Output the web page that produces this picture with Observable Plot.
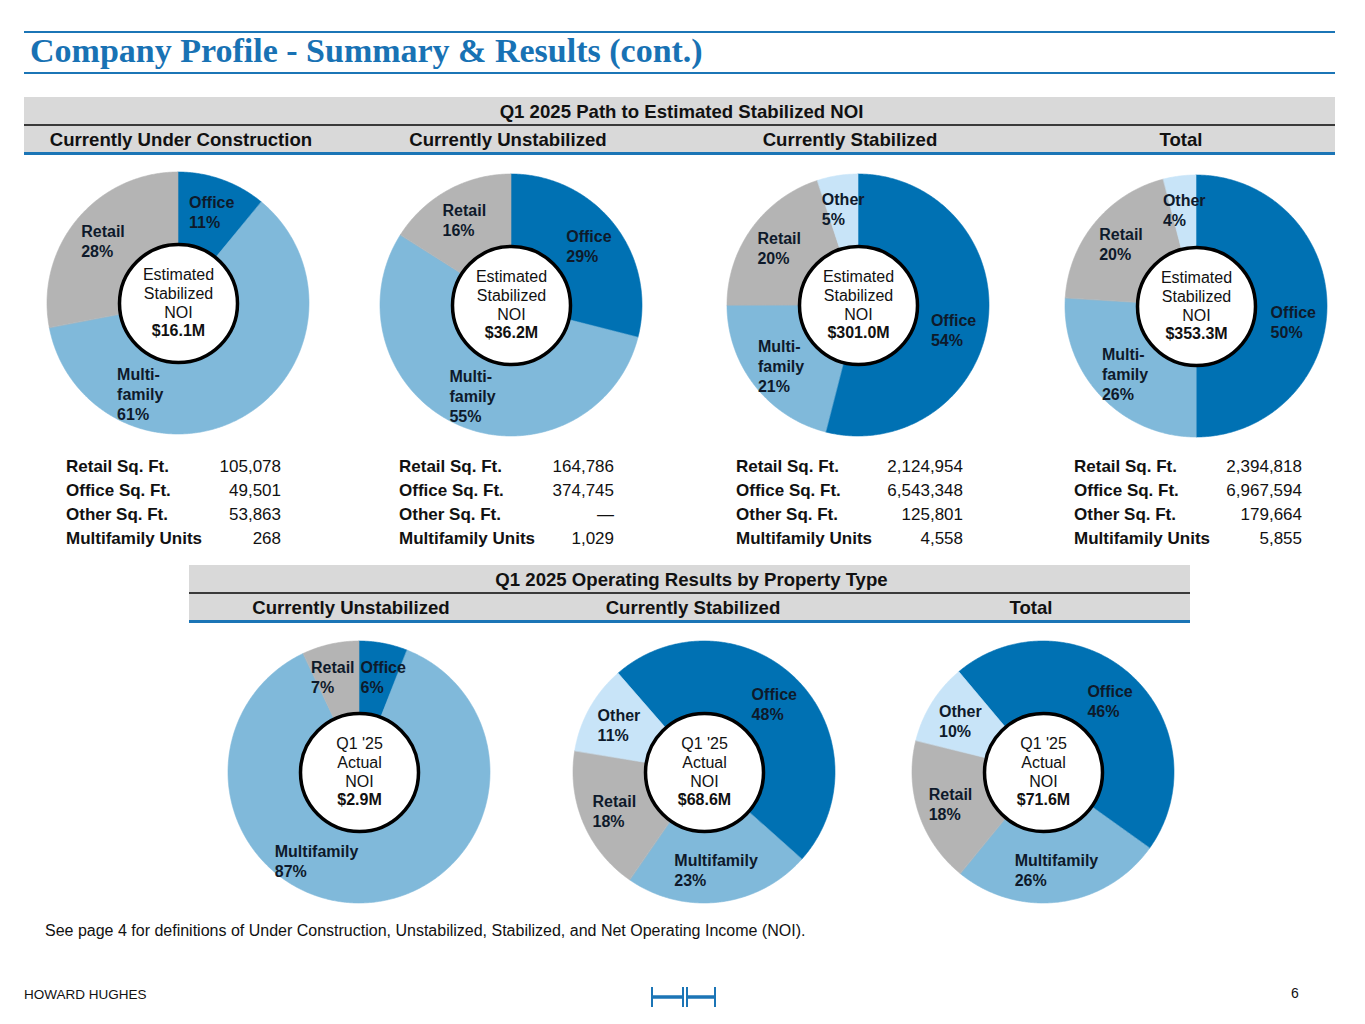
<!DOCTYPE html>
<html><head><meta charset="utf-8">
<script src="https://cdn.jsdelivr.net/npm/d3@7"></script>
<script src="https://cdn.jsdelivr.net/npm/@observablehq/plot@0.6"></script>
<style>
body{margin:0;background:#fff;font-family:"Liberation Sans",Arial,sans-serif;color:#111;}
#page{position:relative;width:1365px;height:1024px;overflow:hidden;background:#fff;}
.abs{position:absolute;}
.hline{position:absolute;height:2px;background:#1b75b6;}
.gray{position:absolute;background:#d9d9d9;}
.hdr{position:absolute;font-weight:bold;font-size:18.6px;white-space:nowrap;transform:translate(-50%,-50%);color:#111;}
.tbl{position:absolute;font-size:17px;}
.tbl .row{position:absolute;left:0;right:0;height:24px;line-height:24px;}
.tbl .lab{position:absolute;left:0;font-weight:bold;}
.tbl .val{position:absolute;right:0;}
.chart{position:absolute;}
</style></head>
<body><div id="page"></div>
<script>
// ---------------- data ----------------
const categories = ["Office", "Multifamily", "Retail", "Other"];
const categoryColors = ["#0071b3", "#80b9da", "#b4b4b4", "#c8e4f8"];

const topTitle = "Q1 2025 Path to Estimated Stabilized NOI";
const topGroups = ["Currently Under Construction", "Currently Unstabilized", "Currently Stabilized", "Total"];
const topNOI = ["$16.1M", "$36.2M", "$301.0M", "$353.3M"];
const topOffice = [11, 29, 54, 50];
const topMultifamily = [61, 55, 21, 26];
const topRetail = [28, 16, 20, 20];
const topOther = [0, 0, 5, 4];

const tableRows = ["Retail Sq. Ft.", "Office Sq. Ft.", "Other Sq. Ft.", "Multifamily Units"];
const retailSqFt = [105078, 164786, 2124954, 2394818];
const officeSqFt = [49501, 374745, 6543348, 6967594];
const otherSqFt = [53863, null, 125801, 179664];
const multifamilyUnits = [268, 1029, 4558, 5855];

const bottomTitle = "Q1 2025 Operating Results by Property Type";
const bottomGroups = ["Currently Unstabilized", "Currently Stabilized", "Total"];
const bottomNOI = ["$2.9M", "$68.6M", "$71.6M"];
const bottomOffice = [6, 48, 46];
const bottomMultifamily = [87, 23, 26];
const bottomRetail = [7, 18, 18];
const bottomOther = [0, 11, 10];

const topCenterText = "Estimated\nStabilized\nNOI";
const bottomCenterText = "Q1 '25\nActual\nNOI";
const topLabelNames = ["Office", "Multi-\nfamily", "Retail", "Other"];
const bottomLabelNames = ["Office", "Multifamily", "Retail", "Other"];

const footnote = "See page 4 for definitions of Under Construction, Unstabilized, Stabilized, and Net Operating Income (NOI).";
const pageTitle = "Company Profile - Summary & Results (cont.)";

// ---------------- layout ----------------
const page = document.getElementById("page");
const FONT = "'Liberation Sans', Arial, sans-serif";
const topCenters = [[178, 303], [511, 305], [858, 305], [1196, 306]];
const topStart = [0, 0, 0, 0];
// label placement angles (degrees, clockwise from 12 o'clock) where the original moved a label off its slice middle
const topLabelAngles = [{Multifamily: 203}, {}, {Office: 104}, {Office: 99}];
const bottomCenters = [[359, 772], [704, 772], [1043, 772]];
const bottomStart = [0, -41, -40];
const bottomLabelAngles = [{Multifamily: 206}, {}, {}];
const topHeaderX = [181, 508, 850, 1181];
const bottomHeaderX = [351, 693, 1031];
const tableLeft = [66, 399, 736, 1074];
const tableRight = [281, 614, 963, 1302];

function el(tag, cls, style, text) {
  const e = document.createElement(tag);
  if (cls) e.className = cls;
  if (style) Object.assign(e.style, style);
  if (text != null) e.textContent = text;
  page.appendChild(e);
  return e;
}

// title
el("div", "hline", {left: "24px", top: "31px", width: "1311px"});
el("div", "abs", {left: "30px", top: "30px", fontFamily: "'Liberation Serif','Times New Roman',serif", fontWeight: "bold", fontSize: "34px", lineHeight: "42px", color: "#1872b4", whiteSpace: "nowrap"}, pageTitle);
el("div", "hline", {left: "24px", top: "72px", width: "1311px"});

function headerBlock(left, top, width, title, groups, xs) {
  el("div", "gray", {left: left + "px", top: top + "px", width: width + "px", height: "56px"});
  el("div", "abs", {left: left + "px", top: (top + 27) + "px", width: width + "px", height: "1.5px", background: "#3a3a3a"});
  el("div", "abs", {left: left + "px", top: (top + 55) + "px", width: width + "px", height: "3px", background: "#1b75b6"});
  el("div", "hdr", {left: (left + width / 2 + 2) + "px", top: (top + 14.5) + "px"}, title);
  groups.forEach((g, i) => el("div", "hdr", {left: xs[i] + "px", top: (top + 43) + "px"}, g));
}
headerBlock(24, 97, 1311, topTitle, topGroups, topHeaderX);
headerBlock(189, 565, 1001, bottomTitle, bottomGroups, bottomHeaderX);

// tables
const fmt = d3.format(",");
const tableValues = [retailSqFt, officeSqFt, otherSqFt, multifamilyUnits];
topGroups.forEach((g, i) => {
  const t = el("div", "tbl", {left: tableLeft[i] + "px", top: "455px", width: (tableRight[i] - tableLeft[i]) + "px", height: "100px"});
  tableRows.forEach((r, k) => {
    const row = document.createElement("div"); row.className = "row"; row.style.top = (k * 24) + "px";
    const a = document.createElement("span"); a.className = "lab"; a.textContent = r;
    const v = tableValues[k][i];
    const b = document.createElement("span"); b.className = "val"; b.textContent = v == null ? "\u2014" : fmt(v);
    row.appendChild(a); row.appendChild(b); t.appendChild(row);
  });
});

// donuts
const ctx = document.createElement("canvas").getContext("2d");
function measure(txt, font) { ctx.font = font; return d3.max(txt.split("\n"), l => ctx.measureText(l).width); }

function donut(values, startDeg, names, centerText, noi, angleOverrides) {
  const W = 300, H = 300, R = 131, LR = 98, r = 59, LH = 20;
  const total = d3.sum(values);
  let a = startDeg * Math.PI / 180;
  const slices = [];
  categories.forEach((c, i) => {
    const v = values[i];
    if (!v) return;
    const a0 = a, a1 = a + v / total * 2 * Math.PI;
    a = a1;
    slices.push({cat: c, name: names[i], v, a0, a1});
  });
  const pts = [];
  for (const s of slices) {
    const n = Math.max(2, Math.ceil((s.a1 - s.a0) / (Math.PI / 360)));
    for (let k = 0; k <= n; k++) {
      const t = s.a0 + (s.a1 - s.a0) * k / n;
      pts.push({cat: s.cat, xo: R * Math.sin(t), yo: R * Math.cos(t), xi: 0, yi: 0});
    }
  }
  const labFont = `bold 16px ${FONT}`;
  const labels = slices.map(s => {
    const m = angleOverrides[s.cat] != null ? angleOverrides[s.cat] * Math.PI / 180 : (s.a0 + s.a1) / 2;
    const txt = s.name + "\n" + Math.round(s.v) + "%";
    const w = measure(txt, labFont);
    const h = txt.split("\n").length * LH;
    return {txt, w, h, cx: LR * Math.sin(m), y: LR * Math.cos(m)};
  });
  // push apart labels whose boxes collide
  for (let iter = 0; iter < 20; iter++) {
    let moved = false;
    for (let i = 0; i < labels.length; i++) for (let j = i + 1; j < labels.length; j++) {
      const A = labels[i], B = labels[j];
      const oy = (A.h + B.h) / 2 - Math.abs(A.y - B.y);
      const need = (A.w + B.w) / 2 + 6;
      const dx = B.cx - A.cx;
      if (oy > 0 && Math.abs(dx) < need) {
        const push = (need - Math.abs(dx)) / 2, sgn = dx >= 0 ? 1 : -1;
        A.cx -= sgn * push; B.cx += sgn * push; moved = true;
      }
    }
    if (!moved) break;
  }
  labels.forEach(l => { l.x = l.cx - l.w / 2; });
  const L = 19;
  const nLines = centerText.split("\n").length + 1;
  const firstY = -((nLines - 1) / 2) * L - 1.5;
  return Plot.plot({
    width: W, height: H, margin: 0,
    x: {domain: [-W / 2, W / 2], axis: null},
    y: {domain: [-H / 2, H / 2], axis: null},
    color: {domain: categories, range: categoryColors},
    style: {background: "transparent", overflow: "visible", fontFamily: FONT},
    marks: [
      Plot.area(pts, {x1: "xo", y1: "yo", x2: "xi", y2: "yi", z: "cat", fill: "cat", stroke: "cat", strokeWidth: 0.6}),
      Plot.dot([{x: 0, y: 0}], {x: "x", y: "y", r: r, fill: "white", stroke: "black", strokeWidth: 3.5}),
      Plot.text(labels, {x: "x", y: "y", text: "txt", textAnchor: "start", lineAnchor: "middle", fontSize: 16, fontWeight: "bold", fill: "#0e1a2b", lineHeight: LH / 16}),
      Plot.text([{x: 0, y: -(firstY + L)}], {x: "x", y: "y", text: () => centerText, lineAnchor: "middle", fontSize: 16, fill: "#111", lineHeight: L / 16}),
      Plot.text([{x: 0, y: -(firstY + (nLines - 1) * L)}], {x: "x", y: "y", text: () => noi, lineAnchor: "middle", fontSize: 16, fontWeight: "bold", fill: "#111"})
    ]
  });
}

function place(svg, cx, cy) {
  const d = document.createElement("div");
  d.className = "chart";
  d.style.left = (cx - 150) + "px";
  d.style.top = (cy - 150) + "px";
  d.appendChild(svg);
  page.appendChild(d);
}

topGroups.forEach((g, i) => {
  const vals = [topOffice[i], topMultifamily[i], topRetail[i], topOther[i]];
  place(donut(vals, topStart[i], topLabelNames, topCenterText, topNOI[i], topLabelAngles[i]), topCenters[i][0], topCenters[i][1]);
});
bottomGroups.forEach((g, i) => {
  const vals = [bottomOffice[i], bottomMultifamily[i], bottomRetail[i], bottomOther[i]];
  place(donut(vals, bottomStart[i], bottomLabelNames, bottomCenterText, bottomNOI[i], bottomLabelAngles[i]), bottomCenters[i][0], bottomCenters[i][1]);
});

// footnote & footer
el("div", "abs", {left: "45px", top: "921px", fontSize: "16px", lineHeight: "20px", whiteSpace: "nowrap", color: "#111"}, footnote);
el("div", "abs", {left: "24px", top: "987px", fontSize: "13.5px", lineHeight: "16px", whiteSpace: "nowrap", color: "#111"}, "HOWARD HUGHES");
el("div", "abs", {left: "1291px", top: "985px", fontSize: "14px", lineHeight: "16px", color: "#111"}, "6");
const logo = document.createElementNS("http://www.w3.org/2000/svg", "svg");
logo.setAttribute("width", "70"); logo.setAttribute("height", "26");
logo.style.position = "absolute"; logo.style.left = "648px"; logo.style.top = "984px";
logo.innerHTML = `<g stroke="#1b75b6" fill="none">
<line x1="4" y1="3" x2="4" y2="23" stroke-width="2"/>
<line x1="35" y1="3" x2="35" y2="23" stroke-width="2"/>
<line x1="39" y1="3" x2="39" y2="23" stroke-width="2"/>
<line x1="67" y1="3" x2="67" y2="23" stroke-width="2"/>
<line x1="4" y1="13" x2="35" y2="13" stroke-width="3.5"/>
<line x1="39" y1="13" x2="67" y2="13" stroke-width="3.5"/></g>`;
page.appendChild(logo);
</script>
</body></html>
